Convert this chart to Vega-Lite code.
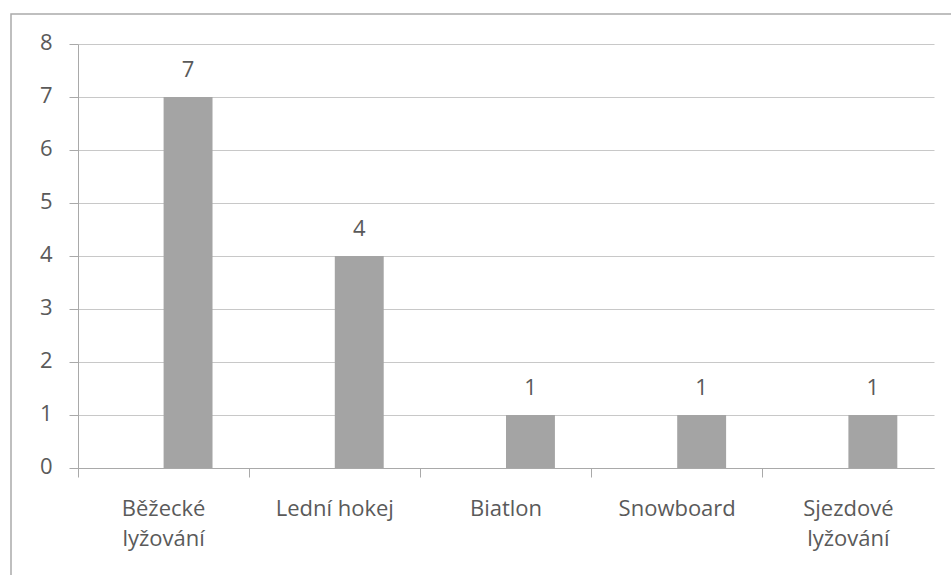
{
  "$schema": "https://vega.github.io/schema/vega-lite/v6.json",
  "autosize": {"type": "none"},
  "padding": {"left": 11, "top": 14, "right": -4, "bottom": -4},
  "width": 944,
  "height": 565,
  "background": "#ffffff",
  "config": {
    "view": {"stroke": "#ababab", "strokeWidth": 1.5},
    "font": "Open Sans",
    "axis": {
      "labelFont": "Open Sans",
      "labelFontSize": 22,
      "labelColor": "#5a5a5a",
      "domainColor": "#a9a9a9",
      "tickColor": "#a9a9a9",
      "gridColor": "#c8c8c8",
      "title": null
    }
  },
  "data": {
    "values": [
      {"sport": "Běžecké lyžování", "series": "B", "count": 7},
      {"sport": "Lední hokej", "series": "B", "count": 4},
      {"sport": "Biatlon", "series": "B", "count": 1},
      {"sport": "Snowboard", "series": "B", "count": 1},
      {"sport": "Sjezdové lyžování", "series": "B", "count": 1}
    ]
  },
  "encoding": {
    "x": {
      "field": "sport",
      "type": "nominal",
      "sort": null,
      "scale": {"range": [67, 923], "paddingInner": 0, "paddingOuter": 0}
    },
    "xOffset": {
      "field": "series",
      "type": "nominal",
      "scale": {"domain": ["A", "B"], "paddingInner": 0, "paddingOuter": 0.75}
    },
    "y": {
      "field": "count",
      "type": "quantitative",
      "scale": {"domain": [0, 8], "range": [454, 30], "nice": false},
      "axis": {
        "orient": "left",
        "offset": -67,
        "values": [0, 1, 2, 3, 4, 5, 6, 7, 8],
        "grid": true,
        "tickSize": 9,
        "labelPadding": 17,
        "labelOffset": -2
      }
    }
  },
  "layer": [
    {
      "mark": {"type": "bar", "color": "#a4a4a4"},
      "encoding": {
        "x": {
          "field": "sport",
          "type": "nominal",
          "sort": null,
          "axis": {
            "orient": "bottom",
            "offset": -111,
            "ticks": false,
            "labelAngle": 0,
            "labelPadding": 30,
            "labelLineHeight": 30,
            "labelExpr": "test(/lyžování$/, datum.label) ? split(datum.label, ' ') : datum.label"
          }
        }
      }
    },
    {
      "mark": {"type": "text", "baseline": "alphabetic", "dy": -20, "fontSize": 22, "color": "#5a5a5a", "font": "Open Sans"},
      "encoding": {
        "x": {
          "field": "sport",
          "type": "nominal",
          "sort": null,
          "axis": {
            "orient": "bottom",
            "offset": -111,
            "bandPosition": 0,
            "labels": false,
            "domain": false,
            "ticks": true,
            "tickSize": 9
          }
        },
        "text": {"field": "count", "type": "quantitative"}
      }
    }
  ],
  "resolve": {"axis": {"x": "independent"}}
}
